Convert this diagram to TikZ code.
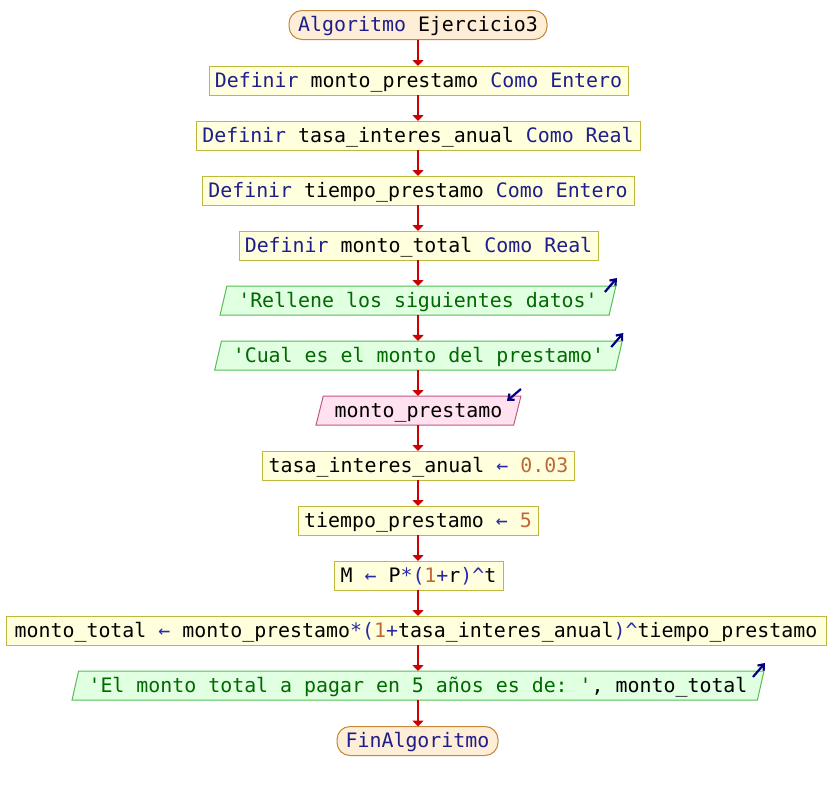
\documentclass[tikz,border=0pt]{standalone}
\usepackage{fontspec}
\setmonofont{DejaVu Sans Mono}
\usetikzlibrary{arrows.meta,shapes.geometric,calc}

% colours of the flowchart
\definecolor{kwblue}{RGB}{30,30,140}
\definecolor{opblue}{RGB}{40,40,170}
\definecolor{strgreen}{RGB}{0,105,0}
\definecolor{numbrown}{RGB}{190,105,55}
\definecolor{flowred}{RGB}{204,0,0}
\definecolor{procfill}{RGB}{255,255,221}
\definecolor{procline}{RGB}{190,185,60}
\definecolor{termfill}{RGB}{255,238,215}
\definecolor{termline}{RGB}{195,135,55}
\definecolor{outfill}{RGB}{225,255,225}
\definecolor{outline}{RGB}{85,190,85}
\definecolor{infill}{RGB}{255,225,240}
\definecolor{inline}{RGB}{195,85,130}
\definecolor{iconblue}{RGB}{0,0,128}

\newcommand{\kw}[1]{\textcolor{kwblue}{#1}}
\newcommand{\op}[1]{\textcolor{opblue}{#1}}
\newcommand{\str}[1]{\textcolor{strgreen}{#1}}
\newcommand{\num}[1]{\textcolor{numbrown}{#1}}

\begin{document}
\begin{tikzpicture}[x=1pt,y=-1pt,
  every node/.style={font=\fontsize{19.9}{24}\selectfont\ttfamily, inner sep=0pt, outer sep=0pt, text height=14pt, text depth=1pt},
  proc/.style={draw=procline, fill=procfill, line width=1pt, minimum height=29pt},
  term/.style={draw=termline, fill=termfill, line width=1pt, minimum height=29pt, rounded corners=13pt},
  outbox/.style={trapezium, trapezium stretches=true, trapezium left angle=67, trapezium right angle=113,
     draw=outline, fill=outfill, line width=1pt, minimum height=29pt},
  inbox/.style={trapezium, trapezium stretches=true, trapezium left angle=67, trapezium right angle=113,
     draw=inline, fill=infill, line width=1pt, minimum height=29pt},
  flow/.style={draw=flowred, line width=1.6pt, -{Triangle[length=6pt,width=11pt]}},
  icon/.style={draw=iconblue, line width=2.2pt, -{Straight Barb[length=5pt,width=8pt]}}
]
\useasboundingbox (0,0) rectangle (836,790);
\fill[white] (0,0) rectangle (836,790);

% blocks, top to bottom
\node[term, minimum width=258pt] (n1) at (418,25) {\kw{Algoritmo} Ejercicio3};
\node[proc, minimum width=419pt] (n2) at (418.5,80.5) {\kw{Definir} monto\_prestamo \kw{Como} \kw{Entero}};
\node[proc, minimum width=444pt] (n3) at (418,135.5) {\kw{Definir} tasa\_interes\_anual \kw{Como} \kw{Real}};
\node[proc, minimum width=432pt] (n4) at (418,190.5) {\kw{Definir} tiempo\_prestamo \kw{Como} \kw{Entero}};
\node[proc, minimum width=359pt] (n5) at (418.5,245.5) {\kw{Definir} monto\_total \kw{Como} \kw{Real}};
\node[outbox, minimum width=396pt] (n6) at (418,300.5) {\str{'Rellene los siguientes datos'}};
\node[outbox, minimum width=409pt] (n7) at (418.5,355.5) {\str{'Cual es el monto del prestamo'}};
\node[inbox, minimum width=205pt] (n8) at (418.5,410.5) {monto\_prestamo};
\node[proc, minimum width=312pt] (n9) at (418.5,465.5) {tasa\_interes\_anual \op{←} \num{0.03}};
\node[proc, minimum width=240pt] (n10) at (418,520.5) {tiempo\_prestamo \op{←} \num{5}};
\node[proc, minimum width=169pt] (n11) at (418.5,575.5) {M \op{←} P\op{*(}\num{1}\op{+}r\op{)\^{}}t};
\node[proc, minimum width=820pt] (n12) at (416,630.5) {monto\_total \op{←} monto\_prestamo\op{*(}\num{1}\op{+}tasa\_interes\_anual\op{)\^{}}tiempo\_prestamo};
\node[outbox, minimum width=696pt] (n13) at (418,685.5) {\str{'El monto total a pagar en 5 años es de: '}, monto\_total};
\node[term, minimum width=161pt] (n14) at (417.5,741) {\kw{FinAlgoritmo}};

% flow connectors
\foreach \a/\b in {n1/n2,n2/n3,n3/n4,n4/n5,n5/n6,n6/n7,n7/n8,n8/n9,n9/n10,n10/n11,n11/n12,n12/n13,n13/n14}
  \draw[flow] (418,0 |- \a.south) -- (418,0 |- \b.north);

% output / input markers
\draw[icon] ($(n6.top right corner)+(-11,6)$) -- ($(n6.top right corner)+(1,-8)$);
\draw[icon] ($(n7.top right corner)+(-11,6)$) -- ($(n7.top right corner)+(1,-8)$);
\draw[icon] ($(n13.top right corner)+(-11,6)$) -- ($(n13.top right corner)+(1,-8)$);
\draw[icon] ($(n8.top right corner)+(0,-7)$) -- ($(n8.top right corner)+(-14,5)$);
\end{tikzpicture}
\end{document}
